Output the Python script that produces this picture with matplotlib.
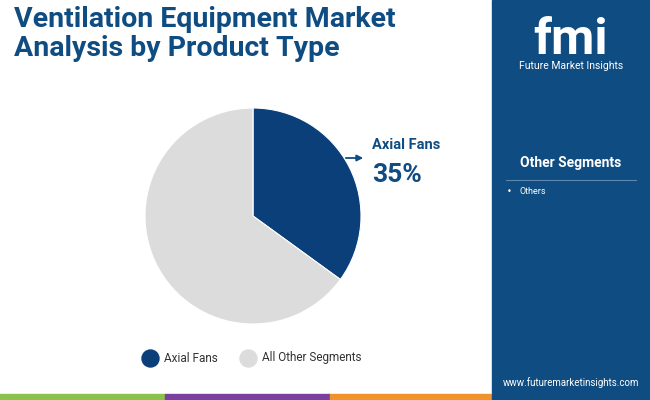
import matplotlib
matplotlib.use("Agg")
import matplotlib.pyplot as plt
from matplotlib.patches import Rectangle, FancyArrowPatch

categories = ["Axial Fans", "All Other Segments"]
values = [35, 65]
colors = ["#0b3f7a", "#dcdcdc"]
other_items = ["Others"]

fig = plt.figure(figsize=(6.5, 4.0), dpi=100)
W, H = 650, 400
bg = fig.add_axes([0, 0, 1, 1])
bg.set_xlim(0, W); bg.set_ylim(H, 0); bg.axis("off")

bg.add_patch(Rectangle((492, 0), W - 492, H, color="#0f4c81", zorder=0))
for x0, x1, c in [(0, 165, "#8bc34a"), (165, 330, "#7b3fa0"), (330, 492, "#f0932b"), (492, 650, "#0f4c81")]:
    bg.add_patch(Rectangle((x0, 394), x1 - x0, 6, color=c, zorder=1))

bg.text(14, 6, "Ventilation Equipment Market\nAnalysis by Product Type", color="#0f4c81",
        fontsize=20.5, fontweight="bold", va="top", ha="left", family="Roboto", linespacing=1.1)

bg.text(571, 40, "fmi", color="white", fontsize=36, fontweight="bold", ha="center", va="center", family="Roboto")
bg.text(571, 66, "Future Market Insights", color="white", fontsize=7.5, ha="center", va="center", family="Roboto")
bg.text(571, 163, "Other Segments", color="white", fontsize=10, fontweight="bold", ha="center", va="center", family="Roboto")
bg.plot([506, 636], [180, 180], color="#5d86b0", lw=0.8)
for i, it in enumerate(other_items):
    bg.text(507, 192 + 14 * i, "•", color="white", fontsize=6, va="center")
    bg.text(519, 192 + 14 * i, it, color="white", fontsize=6.5, va="center", family="Roboto")
bg.text(571, 383, "www.futuremarketinsights.com", color="white", fontsize=7, ha="center", va="center", family="Roboto")

ax = fig.add_axes([(253 - 108) / W, 1 - (216 + 108) / H, 216 / W, 216 / H])
ax.pie(values, colors=colors, startangle=90, counterclock=False,
       wedgeprops=dict(edgecolor="white", linewidth=0.8))
ax.set_xlim(-1, 1); ax.set_ylim(-1, 1)
ax.set_aspect("equal")

bg.add_patch(FancyArrowPatch((343, 158), (366, 158), arrowstyle="-|>", mutation_scale=9, color="#0f4c81", lw=1.3))
bg.text(372, 145, categories[0], color="#0f4c81", fontsize=10.5, fontweight="bold", va="center", family="Roboto")
bg.text(372, 175, f"{values[0]}%", color="#0f4c81", fontsize=19, fontweight="bold", va="center", family="Roboto")

lx = [150, 248]
for x, c, lab in zip(lx, colors, categories):
    bg.scatter([x], [358], s=150, color=c)
    bg.text(x + 14, 358, lab, fontsize=8.5, va="center", color="#333333", family="Roboto")

fig.savefig("out.png", dpi=100)
